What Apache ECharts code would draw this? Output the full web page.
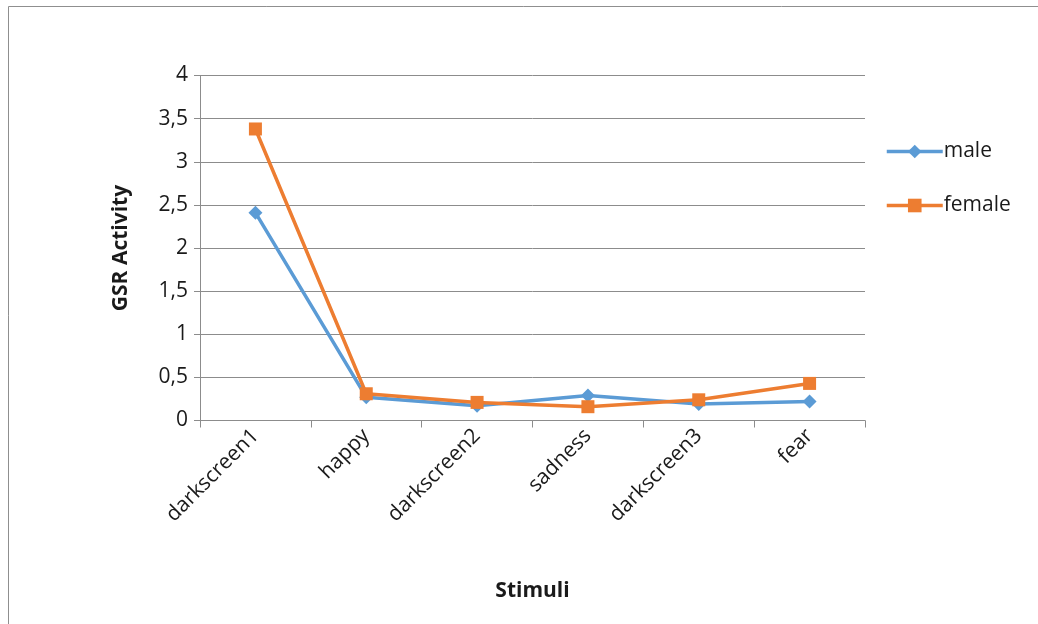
<!DOCTYPE html>
<html>
<head>
<meta charset="utf-8">
<script src="https://cdn.jsdelivr.net/npm/echarts@6/dist/echarts.min.js"></script>
<style>
  html, body { margin: 0; padding: 0; background: #fff; }
  #chart { width: 1038px; height: 624px; }
</style>
</head>
<body>
<div id="chart"></div>
<script>
// GSR activity per stimulus, split by gender
const categories = ['darkscreen1', 'happy', 'darkscreen2', 'sadness', 'darkscreen3', 'fear'];
const maleValues = [2.41, 0.27, 0.17, 0.29, 0.19, 0.22];
const femaleValues = [3.38, 0.31, 0.21, 0.16, 0.24, 0.43];
const yTicks = [0, 0.5, 1, 1.5, 2, 2.5, 3, 3.5, 4];

const FONT = '"Open Sans", "Noto Sans", sans-serif';
const AXIS_GRAY = '#8c8c8c';
const TEXT = '#1a1a1a';

const chart = echarts.init(document.getElementById('chart'), null, { renderer: 'canvas' });

chart.setOption({
  backgroundColor: '#ffffff',
  animation: false,
  graphic: [{
    type: 'rect',
    shape: { x: 8.5, y: 6.5, width: 1040, height: 640 },
    style: { fill: 'none', stroke: '#8f8f8f', lineWidth: 1 },
    z: -1
  }],
  grid: { left: 200, right: 173, top: 75.5, bottom: 203.5, containLabel: false },
  legend: {
    orient: 'vertical',
    left: 880,
    top: 136,
    itemWidth: 56,
    itemHeight: 17,
    itemGap: 33,
    lineStyle: { width: 3.5 },
    textStyle: { fontFamily: FONT, fontSize: 21, color: TEXT, padding: [0, 0, 0, -4] },
    data: ['male', 'female']
  },
  xAxis: {
    type: 'category',
    data: categories,
    boundaryGap: true,
    name: 'Stimuli',
    nameLocation: 'middle',
    nameGap: 160,
    nameTextStyle: { fontFamily: FONT, fontSize: 21, fontWeight: 'bold', color: TEXT },
    axisLine: { lineStyle: { color: AXIS_GRAY, width: 1 } },
    axisTick: { show: true, length: 7, lineStyle: { color: AXIS_GRAY }, alignWithLabel: false },
    axisLabel: {
      rotate: 45,
      margin: 12,
      fontFamily: FONT,
      fontSize: 21,
      color: TEXT,
      interval: 0
    },
    splitLine: { show: false }
  },
  yAxis: {
    type: 'value',
    min: 0,
    max: 4,
    interval: 0.5,
    name: 'GSR Activity',
    nameLocation: 'middle',
    nameGap: 68,
    nameTextStyle: { fontFamily: FONT, fontSize: 21, fontWeight: 'bold', color: TEXT },
    axisLine: { show: true, lineStyle: { color: AXIS_GRAY, width: 1 } },
    axisTick: { show: true, length: 6, lineStyle: { color: AXIS_GRAY } },
    axisLabel: {
      margin: 12,
      fontFamily: FONT,
      fontSize: 21,
      color: TEXT,
      formatter: v => yTicks.includes(v) ? String(v).replace('.', ',') : ''
    },
    splitLine: { show: true, lineStyle: { color: AXIS_GRAY, width: 1 } }
  },
  series: [
    {
      name: 'male',
      type: 'line',
      data: maleValues,
      symbol: 'diamond',
      symbolSize: 14,
      lineStyle: { color: '#5B9BD5', width: 3.5 },
      itemStyle: { color: '#5B9BD5' },
      z: 2
    },
    {
      name: 'female',
      type: 'line',
      data: femaleValues,
      symbol: 'rect',
      symbolSize: 13,
      lineStyle: { color: '#ED7D31', width: 3.5 },
      itemStyle: { color: '#ED7D31' },
      z: 3
    }
  ]
});
</script>
</body>
</html>
